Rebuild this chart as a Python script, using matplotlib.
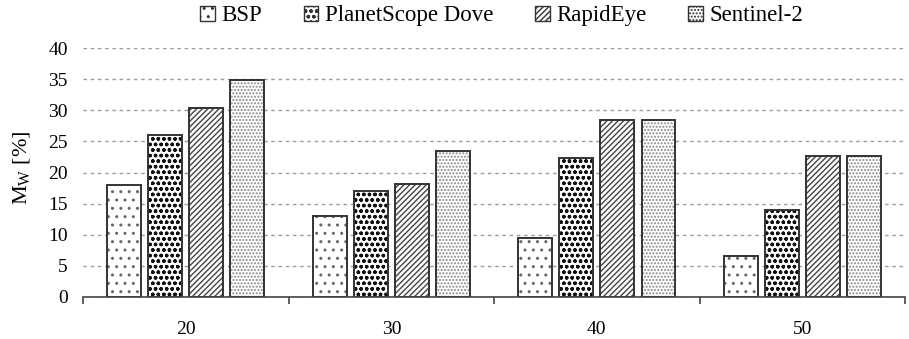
import numpy as np
import matplotlib
matplotlib.use("Agg")
import matplotlib.pyplot as plt
from matplotlib.patches import Patch

# fuentes tipo Times
plt.rcParams['font.family'] = ['Liberation Serif', 'DejaVu Serif']
plt.rcParams['mathtext.fontset'] = 'custom'
plt.rcParams['mathtext.rm'] = 'Liberation Serif'
plt.rcParams['mathtext.it'] = 'Liberation Serif:italic'
plt.rcParams['hatch.linewidth'] = 1.0

# datos
categories = ['20', '30', '40', '50']
series = ['BSP', 'PlanetScope Dove', 'RapidEye', 'Sentinel-2']
bsp = [18.0, 13.0, 9.4, 6.6]
planetscope = [26.0, 17.0, 22.4, 14.0]
rapideye = [30.3, 18.2, 28.4, 22.7]
sentinel = [34.9, 23.5, 28.4, 22.6]
values = [bsp, planetscope, rapideye, sentinel]
hatches = ['..', 'ooo', '//////', '.....']
hatch_colors = ['#666666', '#111111', '#444444', '#888888']

fig = plt.figure(figsize=(9.09, 3.39), dpi=100)
ax = fig.add_axes([0.0913, 0.124, 0.9045, 0.734])

x = np.arange(len(categories))
step = 0.2
width = 0.165
for i, (name, vals) in enumerate(zip(series, values)):
    pos = x + (i - 1.5) * step
    # relleno con trama
    ax.bar(pos, vals, width, facecolor='white', edgecolor=hatch_colors[i],
           linewidth=0, hatch=hatches[i], zorder=3)
    # contorno
    ax.bar(pos, vals, width, facecolor='none', edgecolor='#333333',
           linewidth=1.4, zorder=4)

ax.set_xlim(-0.5, 3.5)
ax.set_ylim(0, 40)
ax.set_yticks(np.arange(0, 41, 5))
ax.set_xticks(x)
ax.set_xticklabels(categories)
ax.set_xticks([-0.5, 0.5, 1.5, 2.5, 3.5], minor=True)
ax.tick_params(axis='x', which='major', length=0, pad=17, labelsize=14)
ax.tick_params(axis='x', which='minor', length=5, width=1.2, color='#444444', direction='out')
ax.tick_params(axis='y', length=0, pad=11, labelsize=14)

ax.grid(axis='y', color='#999999', linestyle=(0, (2.5, 2.7)), linewidth=1.0, zorder=0)
for s in ['top', 'right', 'left']:
    ax.spines[s].set_visible(False)
ax.spines['bottom'].set_color('#444444')
ax.spines['bottom'].set_linewidth(1.2)
ax.spines['bottom'].set_zorder(5)

ax.set_ylabel(r'M$_\mathrm{W}$ [%]', fontsize=16)
ax.yaxis.set_label_coords(-0.062, 0.52)

# leyenda
handles = [Patch(facecolor='white', edgecolor=hatch_colors[i], hatch=hatches[i], linewidth=0)
           for i in range(len(series))]
leg = fig.legend(handles, series, loc='center', bbox_to_anchor=(0.552, 0.953), ncol=4,
                 frameon=False, fontsize=16.5, handlelength=0.65, handleheight=0.65,
                 handletextpad=0.3, columnspacing=1.8, borderaxespad=0)
for h in leg.legend_handles:
    h.set_edgecolor('#333333')
    h.set_linewidth(1.0)

fig.savefig('out.png', dpi=100)
